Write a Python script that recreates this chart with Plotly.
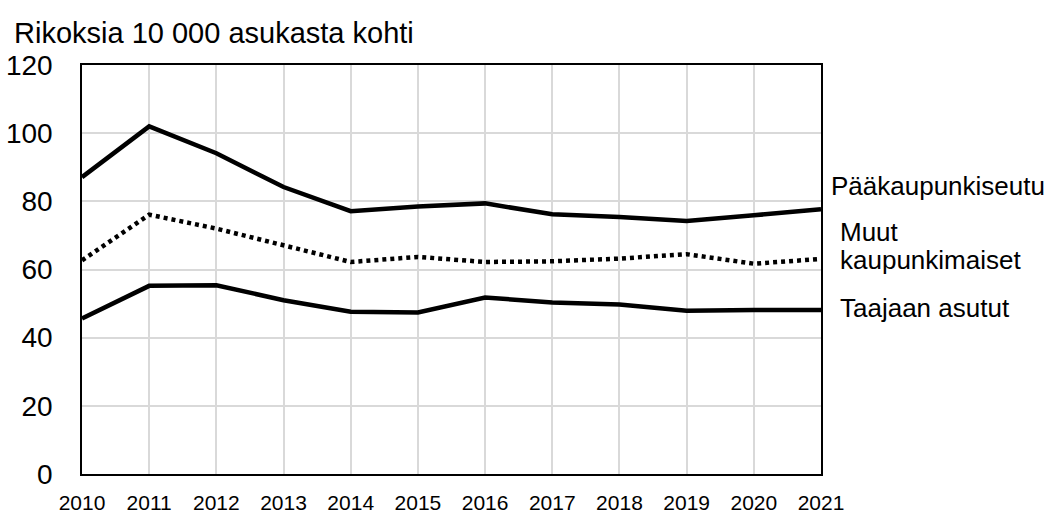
import plotly.graph_objects as go

years = list(range(2010, 2022))
paakaupunkiseutu = [87.1, 102.0, 94.1, 84.2, 77.1, 78.5, 79.4, 76.2, 75.4, 74.2, 75.9, 77.7]
muut_kaupunkimaiset = [62.7, 76.1, 72.0, 67.1, 62.2, 63.7, 62.2, 62.4, 63.2, 64.5, 61.7, 63.1]
taajaan_asutut = [45.6, 55.2, 55.4, 51.0, 47.6, 47.4, 51.8, 50.3, 49.7, 47.9, 48.1, 48.1]

title_text = "Rikoksia 10 000 asukasta kohti"
label_texts = ["Pääkaupunkiseutu", "Muut", "kaupunkimaiset", "Taajaan asutut"]
label_y = [84.4, 71.0, 62.7, 48.7]
label_xshift = [8, 17, 17, 17]

font_family = "Liberation Sans, Arial, sans-serif"

fig = go.Figure()
fig.add_trace(go.Scatter(x=years, y=paakaupunkiseutu, mode="lines",
                         line=dict(color="black", width=4.5), name="Pääkaupunkiseutu"))
fig.add_trace(go.Scatter(x=years, y=muut_kaupunkimaiset, mode="lines",
                         line=dict(color="black", width=4.5, dash="4px,4px"),
                         name="Muut kaupunkimaiset"))
fig.add_trace(go.Scatter(x=years, y=taajaan_asutut, mode="lines",
                         line=dict(color="black", width=4.5), name="Taajaan asutut"))

for lab, ly, xs in zip(label_texts, label_y, label_xshift):
    fig.add_annotation(x=1.0, xref="paper", y=ly, yref="y", text=lab,
                       showarrow=False, xanchor="left", yanchor="middle", align="left",
                       xshift=xs, font=dict(size=26, color="black", family=font_family))

fig.add_annotation(x=0, xref="paper", y=1, yref="paper", text=title_text,
                   showarrow=False, xanchor="left", yanchor="middle",
                   xshift=-70, yshift=32,
                   font=dict(size=29, color="black", family=font_family))

fig.update_layout(
    width=1053, height=515,
    margin=dict(l=82, r=232, t=65, b=41),
    paper_bgcolor="white", plot_bgcolor="white",
    showlegend=False,
    font=dict(family=font_family, color="black"),
    xaxis=dict(range=[2010, 2021], tickmode="array", tickvals=years,
               ticktext=[str(y) for y in years], automargin=False,
               showgrid=True, gridcolor="#d9d9d9", gridwidth=1.5,
               showline=True, linecolor="black", linewidth=1.5, mirror=True,
               ticks="", tickfont=dict(size=21, color="black"),
               ticklabelstandoff=9, zeroline=False),
    yaxis=dict(range=[0, 120], tickmode="array", tickvals=[0, 20, 40, 60, 80, 100, 120],
               automargin=False,
               showgrid=True, gridcolor="#d9d9d9", gridwidth=1.5,
               showline=True, linecolor="black", linewidth=1.5, mirror=True,
               ticks="", tickfont=dict(size=28, color="black"),
               ticklabelstandoff=22, zeroline=False),
)

# remove the browser's default 8px body margin so the figure fills the window
fig.write_html("out.html",
               config={"displayModeBar": False},
               post_script="document.body.style.margin='0';document.body.style.overflow='hidden';")
